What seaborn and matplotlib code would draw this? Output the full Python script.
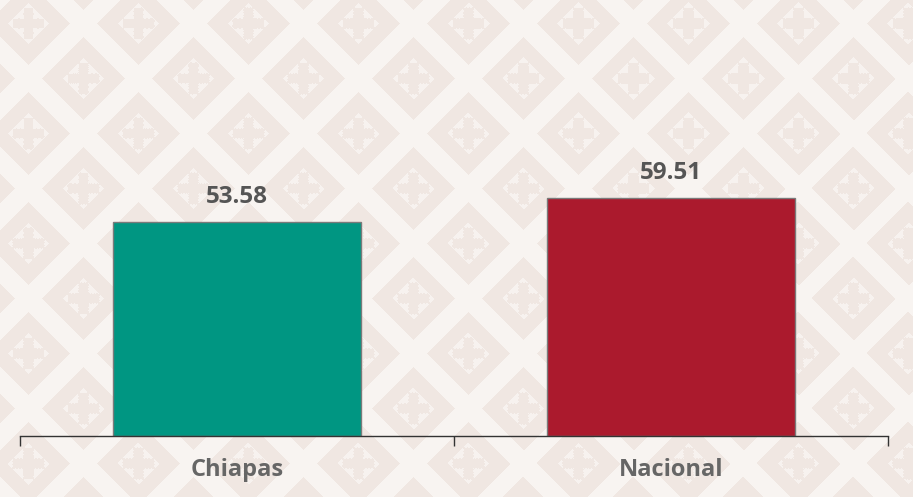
import numpy as np
import pandas as pd
import matplotlib
matplotlib.use('Agg')
import matplotlib.pyplot as plt
import seaborn as sns

# datos
categorias = ['Chiapas', 'Nacional']
valores = [53.58, 59.51]
colores = ['#009682', '#AB1A2D']

sns.set_theme(style='white')
plt.rcParams['font.family'] = ['Open Sans', 'DejaVu Sans']

fig = plt.figure(figsize=(9.13, 4.97), dpi=100)

# fondo con patron de rombos y cruces
h, w = 497, 913
yy, xx = np.mgrid[0:h, 0:w].astype(float)
p = xx - 28
q = yy - 23
u = (p + q) / 110
v = (p - q) / 110
fu = u - np.round(u)
fv = v - np.round(v)
d = 110 * np.maximum(np.abs(fu), np.abs(fv))
dx = 55 * (fu + fv)
dy = 55 * (fu - fv)
beige = np.array([240, 231, 226]) / 255
blanco = np.array([248, 244, 241]) / 255
interior = np.array([247, 242, 239]) / 255
img = np.empty((h, w, 3))
img[:] = blanco
img[d < 42] = beige
img[d < 21] = interior
cruz = ((np.abs(dx) < 16) & (np.abs(dy) < 5)) | ((np.abs(dy) < 16) & (np.abs(dx) < 5))
img[cruz] = beige
bg = fig.add_axes([0, 0, 1, 1], zorder=0)
bg.imshow(img, aspect='auto', interpolation='bilinear')
bg.axis('off')

ax = fig.add_axes([20 / 913, 61 / 497, 868 / 913, 436 / 497], zorder=1)
ax.patch.set_alpha(0)

df = pd.DataFrame({'cat': categorias, 'val': valores})
sns.barplot(data=df, x='cat', y='val', hue='cat', palette=colores, width=0.571,
            saturation=1, edgecolor='#7a7a7a', linewidth=1, legend=False, ax=ax)

ax.set_xlim(-0.5, 1.5)
ax.set_ylim(0, 109)
for i, val in enumerate(valores):
    ax.text(i, val + 3.2, f'{val:.2f}', ha='center', va='bottom',
            fontsize=17.5, fontweight='bold', color='#555555')

ax.set_xticks([-0.5, 0.5, 1.5])
ax.set_xticklabels([])
ax.set_xticks([0, 1], minor=True)
ax.set_xticklabels(categorias, minor=True, fontsize=17, fontweight='bold', color='#666666')
ax.tick_params(axis='x', which='major', length=7, width=1, color='#333333', direction='out', bottom=True)
ax.tick_params(axis='x', which='minor', length=0, pad=16)
ax.set_yticks([])
ax.set_xlabel('')
ax.set_ylabel('')
for s in ['top', 'right', 'left']:
    ax.spines[s].set_visible(False)
ax.spines['bottom'].set_color('#333333')
ax.spines['bottom'].set_linewidth(1)

fig.savefig('out.png', dpi=100)
